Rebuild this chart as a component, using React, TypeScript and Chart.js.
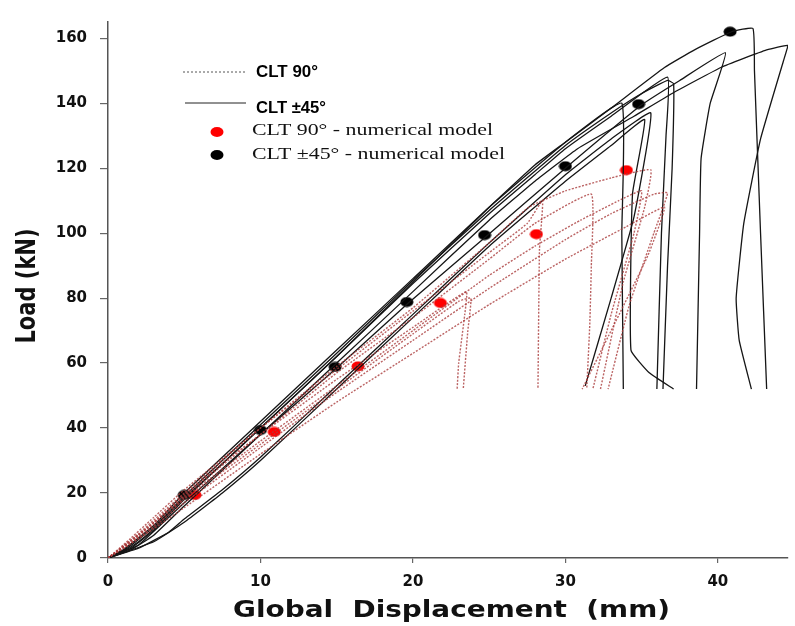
import { useEffect, useRef } from "react";
import { Chart, registerables } from "chart.js";
Chart.register(...registerables);

// Axis ticks
const xTicks = [0, 10, 20, 30, 40];
const yTicks = [0, 20, 40, 60, 80, 100, 120, 140, 160];
const xMax = 44.6;
const yMax = 165;

// Experimental curves CLT ±45° (solid black) [displacement mm, load kN]
const clt45A = [[0,0],[1,2],[2,5],[3,9],[5,18.5],[7.5,29],[10,40],[15,62],[20,85],[25,108],[28,121],[30,128],[33,138.5],[36.5,151],[38.5,156.5],[40.9,162],[42.3,163],[42.4,150],[42.8,100],[43.2,52]];
const clt45B = [[0,0],[1.5,2.5],[3,7],[5,16],[10,38],[15,60],[20,82],[25,104],[28,116],[30.8,126],[34.5,136],[37,143],[40.2,151],[43.2,156.4],[44.6,157.8],[44.3,153],[42.8,129],[41.7,103],[41.2,80],[41.4,67],[42.2,52]];
const clt45C = [[0,0],[2,4],[5,17],[10,38],[15,58.5],[19.7,78.5],[24.8,99],[30,120],[35,139.5],[37.5,147],[40.5,155.5],[39.5,140],[38.9,123],[38.8,100],[38.6,52]];
const clt45D = [[0,0],[1.5,3],[3,8.5],[5,18],[10,40],[15,62],[20,84.5],[25,106],[28,118],[30,126],[33,136],[36.7,148],[36.6,130],[36.3,100],[36.0,52]];
const clt45E = [[0,0],[1,2.5],[3,10],[5,20],[10,42],[15,64],[20,86],[25,108],[30,128],[33.7,140],[33.7,100],[33.8,52]];
const clt45F = [[0,0],[2,3],[4,8],[5,12],[7.5,21],[10,31],[15,53],[20,75],[25,97],[30,118],[33,129],[35.6,137],[34.5,105],[33,80],[31.3,53]];
const clt45G = [[0,0],[3,5],[5,11],[7.5,20],[10,30],[15,52],[20,74],[25,96],[30,116],[33,127],[35.2,135],[34.4,112],[34.3,64],[35.5,57],[37.1,52]];
const clt45H = [[0,0],[1.2,2.8],[3,9.5],[5,19],[10,41],[15,63],[20,85.5],[25,107],[30,127],[33,137],[35,143],[36.7,147],[37.1,146],[37.0,120],[36.7,90],[36.4,52]];

// Experimental curves CLT 90° (dotted red)
const clt90A = [[0,0],[1,3.5],[3,11],[5,19.5],[8,31],[10,38],[15,55],[20,71],[23.5,82],[23.4,75],[23,60],[22.9,52]];
const clt90B = [[0,0],[1,4],[3,12.5],[5,21],[10,40],[15,58],[20,76],[25,94],[27.5,103],[28.5,110],[28.3,95],[28.2,52]];
const clt90C = [[0,0],[2,7],[5,19],[10,38],[15,57],[20,74],[25,92],[28,103],[31.7,112],[31.7,90],[31.6,72],[31.4,52]];
const clt90D = [[0,0],[2,6],[5,17],[10,34],[15,51],[20,67],[25,83],[30,98],[33,106],[35.8,112],[36.7,112.4],[35.8,100],[34.2,78],[32.8,52]];
const clt90E = [[0,0],[2,7.5],[5,20],[10,40],[15,59],[20,77],[25,97],[27.6,108],[30,113],[33,117],[35.6,119.5],[35.2,108],[33.8,85],[32.3,52]];
const clt90F = [[0,0],[3,9],[5,15.5],[10,32],[15,48],[20,63],[25,78],[30,92],[34,102],[36.5,108],[35.4,93],[33,70],[31.1,52]];
const clt90G = [[0,0],[2,7],[5,18.5],[10,36],[15,53],[20,70],[25,87],[28,96],[31,104],[33.5,110],[35,113],[34.5,100],[33,75],[31.8,52]];
const clt90H = [[0,0],[2,6.5],[5,18],[10,35],[15,52],[20,69],[23,79],[23.8,80],[23.6,70],[23.3,52]];

// Numerical model points
const model90X = [5.7, 10.9, 16.4, 21.8, 28.1, 34.0];
const model90Y = [19.4, 38.8, 59, 78.5, 99.7, 119.4];
const model45X = [5.0, 10.0, 14.9, 19.6, 24.7, 30.0, 34.8, 40.8];
const model45Y = [19.4, 39.4, 58.8, 78.8, 99.4, 120.6, 139.7, 162];

const solidCurves = [clt45A, clt45B, clt45C, clt45D, clt45E, clt45F, clt45G, clt45H];
const dottedCurves = [clt90A, clt90B, clt90C, clt90D, clt90E, clt90F, clt90G, clt90H];

function ellipse(color: string) {
  const c = document.createElement("canvas");
  c.width = 14; c.height = 11;
  const g = c.getContext("2d")!;
  g.fillStyle = color;
  g.beginPath();
  g.ellipse(7, 5.5, 6.5, 5, 0, 0, Math.PI * 2);
  g.fill();
  return c;
}

function stretchText(ctx: CanvasRenderingContext2D, text: string, font: string, x: number, y: number, width: number) {
  ctx.save();
  ctx.font = font;
  const w = ctx.measureText(text).width;
  ctx.translate(x, y);
  ctx.scale(width / w, 1);
  ctx.textAlign = "left";
  ctx.textBaseline = "middle";
  ctx.fillText(text, 0, 0);
  ctx.restore();
}

const decorPlugin = {
  id: "decor",
  afterDraw(chart: any) {
    const ctx: CanvasRenderingContext2D = chart.ctx;
    ctx.save();
    ctx.fillStyle = "#111";
    // x title
    ctx.save();
    ctx.font = "bold 23px 'DejaVu Sans'";
    const xt = "Global  Displacement  (mm)";
    const w = ctx.measureText(xt).width;
    ctx.translate(233, 617);
    ctx.scale(437 / w, 1);
    ctx.textBaseline = "alphabetic";
    ctx.textAlign = "left";
    ctx.fillText(xt, 0, 0);
    ctx.restore();
    // y title
    ctx.save();
    ctx.font = "bold 21px 'DejaVu Sans'";
    ctx.translate(35, 286);
    ctx.scale(1.3, 1);
    ctx.rotate(-Math.PI / 2);
    ctx.textAlign = "center";
    ctx.textBaseline = "alphabetic";
    ctx.fillText("Load (kN)", 0, 0);
    ctx.restore();
    // legend
    ctx.strokeStyle = "#555";
    ctx.lineWidth = 1;
    ctx.setLineDash([2, 2]);
    ctx.beginPath(); ctx.moveTo(183, 72); ctx.lineTo(246, 72); ctx.stroke();
    ctx.setLineDash([]);
    ctx.strokeStyle = "#222";
    ctx.beginPath(); ctx.moveTo(185, 103); ctx.lineTo(246, 103); ctx.stroke();
    ctx.fillStyle = "#000";
    stretchText(ctx, "CLT 90°", "bold 17px 'Liberation Sans'", 256, 72, 62);
    stretchText(ctx, "CLT ±45°", "bold 17px 'Liberation Sans'", 256, 108, 70);
    ctx.fillStyle = "#111";
    stretchText(ctx, "CLT 90° - numerical model", "17px 'Liberation Serif'", 252, 131, 241);
    stretchText(ctx, "CLT ±45° - numerical model", "17px 'Liberation Serif'", 252, 155, 253);
    ctx.fillStyle = "#ff0000";
    ctx.beginPath(); ctx.ellipse(217, 132, 6.5, 5, 0, 0, Math.PI * 2); ctx.fill();
    ctx.fillStyle = "#000";
    ctx.beginPath(); ctx.ellipse(217, 155, 6.5, 5, 0, 0, Math.PI * 2); ctx.fill();
    ctx.restore();
  },
};

export default function App() {
  const ref = useRef<HTMLCanvasElement | null>(null);
  useEffect(() => {
    document.body.style.margin = "0";
    document.body.style.overflow = "hidden";
    const canvas = ref.current!;
    const toPts = (arr: number[][]) => arr.map(([x, y]) => ({ x, y }));
    const datasets: any[] = [];
    dottedCurves.forEach((c) =>
      datasets.push({
        data: toPts(c), showLine: true, pointRadius: 0, borderColor: "rgba(170,60,60,0.8)",
        borderWidth: 1.4, borderDash: [2, 1.5], tension: 0.12, fill: false,
      })
    );
    solidCurves.forEach((c) =>
      datasets.push({
        data: toPts(c), showLine: true, pointRadius: 0, borderColor: "#151515",
        borderWidth: 1.3, tension: 0.12, fill: false,
      })
    );
    datasets.push({
      data: model90X.map((x, i) => ({ x, y: model90Y[i] })), showLine: false,
      pointStyle: ellipse("#ff0000"), pointRadius: 6,
    });
    datasets.push({
      data: model45X.map((x, i) => ({ x, y: model45Y[i] })), showLine: false,
      pointStyle: ellipse("#000000"), pointRadius: 6,
    });
    const tickFont = { family: "'DejaVu Sans'", size: 15, weight: "bold" as const };
    const chart = new Chart(canvas, {
      type: "scatter",
      data: { datasets },
      options: {
        responsive: false,
        animation: false,
        devicePixelRatio: 1,
        layout: { padding: { top: 13, right: 0, left: 0, bottom: 0 } },
        plugins: { legend: { display: false }, tooltip: { enabled: false } },
        scales: {
          x: {
            type: "linear", min: 0, max: xMax,
            afterBuildTicks: (s: any) => { s.ticks = xTicks.map((v) => ({ value: v })); },
            afterFit: (s: any) => { s.height = 68; },
            grid: { drawOnChartArea: false, drawTicks: true, tickLength: 5, color: "#666", lineWidth: 1.2 },
            border: { display: true, color: "#555", width: 1.5 },
            ticks: { font: tickFont, color: "#111", padding: 10, maxRotation: 0 },
          },
          y: {
            type: "linear", min: 0, max: yMax,
            afterBuildTicks: (s: any) => { s.ticks = yTicks.map((v) => ({ value: v })); },
            afterFit: (s: any) => { s.width = 108; },
            grid: { drawOnChartArea: false, drawTicks: true, tickLength: 8, color: "#666", lineWidth: 1.2 },
            border: { display: true, color: "#555", width: 1.5 },
            ticks: { font: tickFont, color: "#111", padding: 13 },
          },
        },
      },
      plugins: [decorPlugin],
    });
    return () => chart.destroy();
  }, []);
  return (
    <div style={{ width: 795, height: 626, background: "#fff" }}>
      <canvas ref={ref} width={795} height={626} style={{ display: "block" }} />
    </div>
  );
}
